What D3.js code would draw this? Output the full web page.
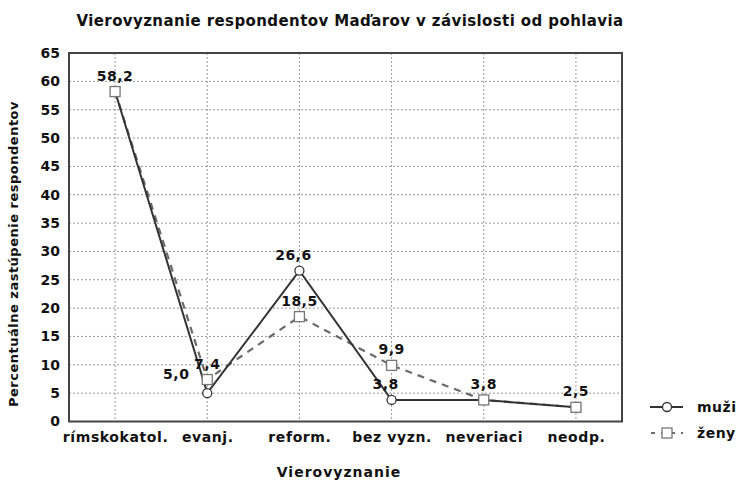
<!DOCTYPE html>
<html><head><meta charset="utf-8">
<script src="https://cdn.jsdelivr.net/npm/d3@7"></script>
<style>
body{margin:0;background:#fff;}
svg text{font-family:"DejaVu Sans",Verdana,sans-serif;font-weight:bold;fill:#111;}
</style></head>
<body><svg id="c" width="739" height="482"></svg>
<script>
const categories = ["rímskokatol.","evanj.","reform.","bez vyzn.","neveriaci","neodp."];
const muzi = [58.2, 5.0, 26.6, 3.8, 3.8, 2.5];
const zeny = [58.2, 7.4, 18.5, 9.9, 3.8, 2.5];
const yTicks = [0,5,10,15,20,25,30,35,40,45,50,55,60,65];
const seriesNames = ["muži","ženy"];
const muziLabels = [null, "5,0", "26,6", "3,8", null, null];
const zenyLabels = ["58,2", "7,4", "18,5", "9,9", "3,8", "2,5"];

const svg = d3.select("#c");
const L=69, R=622, T=53, B=421.5;
const x = d3.scalePoint().domain(categories).range([L,R]).padding(0.5);
const y = d3.scaleLinear().domain([0,65]).range([B,T]);

// title
svg.append("text").attr("x",350).attr("y",26).attr("text-anchor","middle")
  .style("font-size","15px").style("letter-spacing","0.4px")
  .text("Vierovyznanie respondentov Maďarov v závislosti od pohlavia");

// grid
const g = svg.append("g");
g.selectAll(".gy").data(yTicks.slice(1,-1)).enter().append("line")
  .attr("x1",L).attr("x2",R).attr("y1",d=>y(d)).attr("y2",d=>y(d))
  .attr("stroke","#999").attr("stroke-dasharray","2,2").attr("stroke-width",1);
g.selectAll(".gx").data(categories).enter().append("line")
  .attr("x1",d=>x(d)).attr("x2",d=>x(d)).attr("y1",T).attr("y2",B)
  .attr("stroke","#999").attr("stroke-dasharray","2,2").attr("stroke-width",1);

// axes
const ya = svg.append("g").attr("transform",`translate(${L},0)`)
  .call(d3.axisLeft(y).tickValues(yTicks).tickSize(0).tickPadding(9));
ya.select(".domain").remove();
ya.selectAll("text").style("font-size","14px").style("font-family","DejaVu Sans").attr("fill","#111");

const xa = svg.append("g").attr("transform",`translate(0,${B})`)
  .call(d3.axisBottom(x).tickSize(0).tickPadding(11));
xa.select(".domain").remove();
xa.selectAll("text").style("font-size","14px").style("letter-spacing","0.6px").style("font-family","DejaVu Sans").attr("fill","#111");

// frame
svg.append("rect").attr("x",L).attr("y",T).attr("width",R-L).attr("height",B-T)
  .attr("fill","none").attr("stroke","#444").attr("stroke-width",2);

// axis titles
svg.append("text").attr("x",339).attr("y",477).attr("text-anchor","middle")
  .style("font-size","14px").style("letter-spacing","1px").text("Vierovyznanie");
svg.append("text").attr("transform","translate(18,254) rotate(-90)").attr("text-anchor","middle")
  .style("font-size","13px").style("letter-spacing","0.5px").text("Percentuálne zastúpenie respondentov");

const line = d3.line().x((d,i)=>x(categories[i])).y(d=>y(d));

// zeny line
svg.append("path").datum(zeny).attr("d",line).attr("fill","none")
  .attr("stroke","#6a6a6a").attr("stroke-width",2.2).attr("stroke-dasharray","7,6");
// muzi line
svg.append("path").datum(muzi).attr("d",line).attr("fill","none")
  .attr("stroke","#333").attr("stroke-width",2);

// muzi markers
svg.selectAll(".cm").data(muzi).enter().append("circle")
  .attr("cx",(d,i)=>x(categories[i])).attr("cy",d=>y(d)).attr("r",4.5)
  .attr("fill","#fff").attr("stroke","#333").attr("stroke-width",1.3);

// labels
const mData = muzi.map((v,i)=>({v, c:categories[i], t:muziLabels[i], i})).filter(d=>d.t);
const zData = zeny.map((v,i)=>({v, c:categories[i], t:zenyLabels[i]}));
svg.selectAll(".lm").data(mData).enter().append("text")
  .attr("x",d=>x(d.c) - (d.i===1 ? 31 : 6)).attr("y",d=>y(d.v)-(d.i===1 ? 14 : 11)).attr("text-anchor","middle")
  .style("font-size","14px").style("letter-spacing","0.5px").text(d=>d.t);

// zeny markers
svg.selectAll(".sz").data(zeny).enter().append("rect")
  .attr("x",(d,i)=>x(categories[i])-5).attr("y",d=>y(d)-5).attr("width",10).attr("height",10)
  .attr("fill","#fff").attr("stroke","#777").attr("stroke-width",1.3);

svg.selectAll(".lz").data(zData).enter().append("text")
  .attr("x",d=>x(d.c)).attr("y",d=>y(d.v)-11).attr("text-anchor","middle")
  .style("font-size","14px").style("letter-spacing","0.5px").text(d=>d.t);

// legend
const lg = svg.append("g");
const ly = [407, 433];
lg.append("line").attr("x1",650).attr("x2",683).attr("y1",ly[0]).attr("y2",ly[0]).attr("stroke","#333").attr("stroke-width",2);
lg.append("circle").attr("cx",667).attr("cy",ly[0]).attr("r",4.5).attr("fill","#fff").attr("stroke","#333").attr("stroke-width",1.3);
lg.append("line").attr("x1",650).attr("x2",683).attr("y1",ly[1]).attr("y2",ly[1]).attr("stroke","#6a6a6a").attr("stroke-width",2).attr("stroke-dasharray","4,6").attr("stroke-dashoffset","-1");
lg.append("rect").attr("x",662).attr("y",ly[1]-5).attr("width",10).attr("height",10).attr("fill","#fff").attr("stroke","#777").attr("stroke-width",1.3);
lg.selectAll(".lt").data(seriesNames).enter().append("text")
  .attr("x",697).attr("y",(d,i)=>ly[i]+5).style("font-size","14px").style("letter-spacing","0.5px").text(d=>d);
</script></body></html>
